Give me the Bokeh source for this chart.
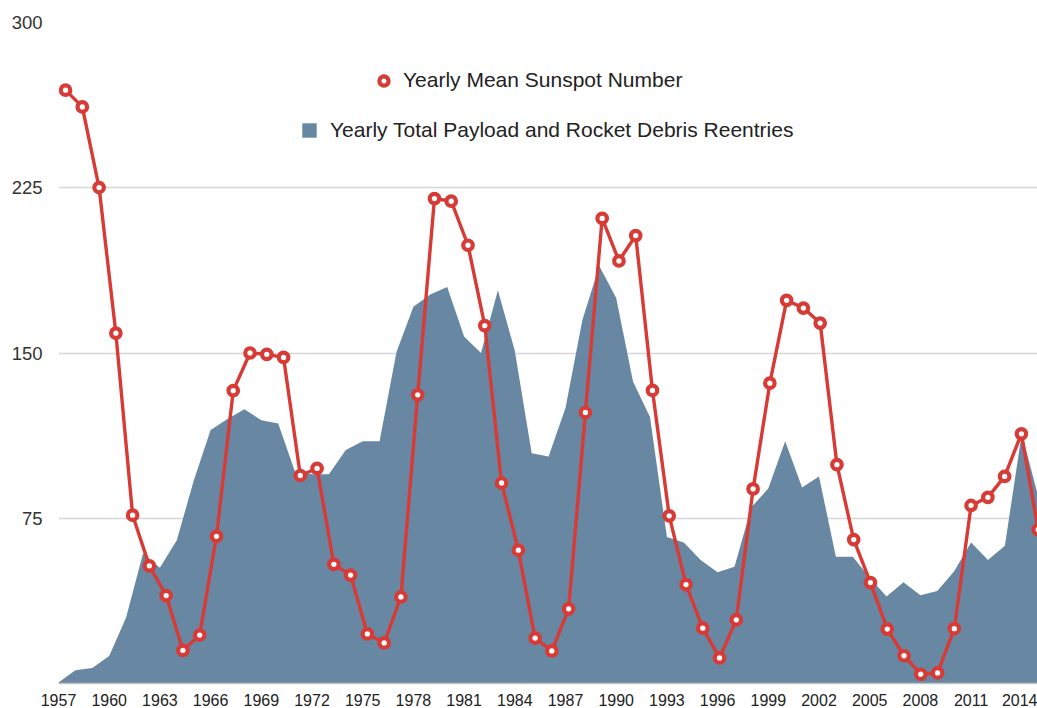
from bokeh.plotting import figure
from bokeh.models import Range1d, FixedTicker, Legend, LegendItem, ColumnDataSource
from bokeh.embed import file_html
from bokeh.resources import INLINE

# ---------------- data ----------------
years = list(range(1957, 2016))

sunspots = [269.3, 261.7, 225.1, 159.0, 76.4, 53.4, 39.9, 15.0, 22.0, 66.8,
            132.9, 150.0, 149.4, 148.0, 94.4, 97.6, 54.1, 49.2, 22.5, 18.4,
            39.3, 131.0, 220.1, 218.9, 198.9, 162.4, 91.0, 60.5, 20.6, 14.8,
            33.9, 123.0, 211.1, 191.8, 203.3, 133.0, 76.1, 44.9, 25.1, 11.6,
            28.9, 88.3, 136.3, 173.9, 170.4, 163.6, 99.3, 65.3, 45.8, 24.7,
            12.6, 4.2, 4.8, 24.9, 80.8, 84.5, 94.0, 113.3, 69.8]

reentries = [0.5, 6, 7, 12.5, 30, 59, 52.5, 65, 92, 115,
             120, 124.5, 119.5, 118, 96, 95, 95, 106, 110, 110,
             150.5, 171, 176.5, 180, 157.5, 150, 178.5, 151, 104.5, 103,
             125, 165, 189.5, 175, 137, 121, 66.5, 64, 56, 50.5,
             53, 80, 88.5, 110, 89, 94, 57.5, 57.5, 48, 39.5,
             46, 40, 42, 51, 64, 56, 62.5, 113.5, 84]

x_ticks = [1957, 1960, 1963, 1966, 1969, 1972, 1975, 1978, 1981, 1984,
           1987, 1990, 1993, 1996, 1999, 2002, 2005, 2008, 2011, 2014]
y_ticks = [75, 150, 225, 300]

sunspot_label = "Yearly Mean Sunspot Number"
reentry_label = "Yearly Total Payload and Rocket Debris Reentries"

# ---------------- style ----------------
FONT = "Liberation Sans"
AREA_COLOR = "#6787a2"
RED = "#d83a36"

src = ColumnDataSource(dict(year=years, sun=sunspots, reentries=reentries))

p = figure(width=1037, height=708,
           min_border_left=58, min_border_right=0, min_border_top=22, min_border_bottom=0,
           x_range=Range1d(1957, 2014.93), y_range=Range1d(0, 300),
           output_backend="svg", toolbar_location=None,
           background_fill_color="white", border_fill_color="white")
p.extra_x_ranges = {"sun": Range1d(1956.58, 2014.96)}
p.outline_line_color = None

area = p.varea(x="year", y1=0, y2="reentries", source=src,
               fill_color=AREA_COLOR, fill_alpha=1.0)

p.line(x="year", y="sun", source=src, x_range_name="sun",
       line_color=RED, line_width=3.4)
marks = p.scatter(x="year", y="sun", source=src, x_range_name="sun",
                  marker="circle", size=9.5, line_width=4.2,
                  line_color=RED, fill_color="white")

# axes
p.yaxis.ticker = FixedTicker(ticks=y_ticks)
p.yaxis.axis_line_color = None
p.yaxis.major_tick_line_color = None
p.yaxis.minor_tick_line_color = None
p.yaxis.major_label_standoff = 10
p.yaxis.major_label_text_font = FONT
p.yaxis.major_label_text_font_size = "18.5px"
p.yaxis.major_label_text_color = "#333333"

p.xaxis.ticker = FixedTicker(ticks=x_ticks)
p.xaxis.axis_line_color = "#c4c4c4"
p.xaxis.axis_line_width = 1.5
p.xaxis.major_tick_line_color = None
p.xaxis.minor_tick_line_color = None
p.xaxis.major_label_standoff = 4
p.xaxis.major_label_text_font = FONT
p.xaxis.major_label_text_font_size = "16px"
p.xaxis.major_label_text_color = "#222222"

p.xgrid.grid_line_color = None
p.ygrid.ticker = FixedTicker(ticks=y_ticks)
p.ygrid.grid_line_color = "#d6d6d6"
p.ygrid.grid_line_width = 1.3

# legends
def make_legend(item, loc, gw, gh, standoff):
    return Legend(items=[item], location=loc, orientation="vertical",
                  glyph_width=gw, glyph_height=gh, label_standoff=standoff,
                  label_height=gh, padding=0, margin=0, spacing=0,
                  border_line_color=None, background_fill_alpha=0,
                  label_text_font=FONT, label_text_font_size="21px",
                  label_text_color="#222222")

leg1 = make_legend(LegendItem(label=sunspot_label, renderers=[marks]), (314, 591), 23, 23, 8)
leg2 = make_legend(LegendItem(label=reentry_label, renderers=[area]), (242, 541), 18, 18, 12)
p.add_layout(leg1)
p.add_layout(leg2)

open("out.html", "w").write(file_html(p, INLINE))
